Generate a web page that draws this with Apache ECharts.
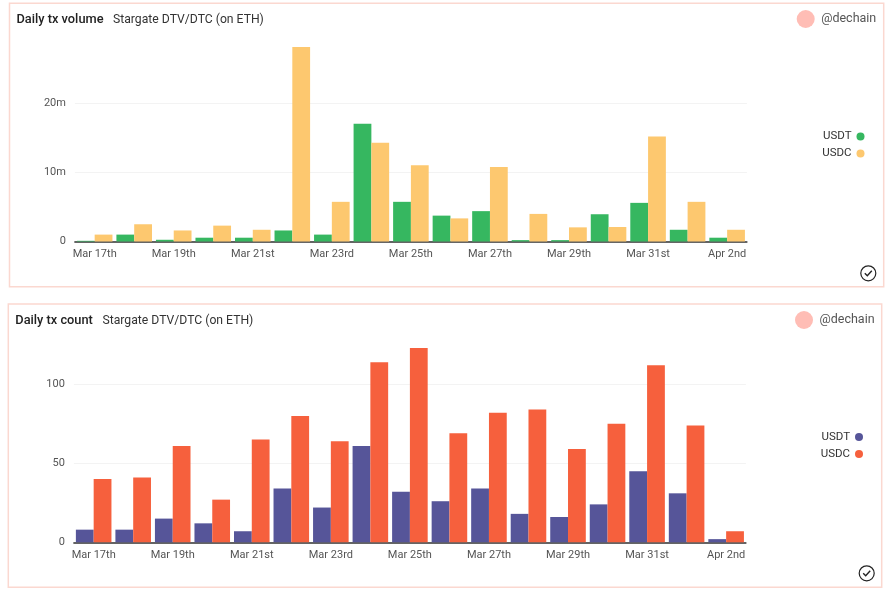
<!DOCTYPE html>
<html>
<head>
<meta charset="utf-8">
<style>
  html, body { margin: 0; padding: 0; background: #fff; }
  #top, #bottom { position: absolute; left: 0; width: 893px; height: 298px; }
  #top { top: 0; }
  #bottom { top: 298px; }
</style>
<script src="https://cdn.jsdelivr.net/npm/echarts@6/dist/echarts.min.js"></script>
</head>
<body>
<div id="top"></div>
<div id="bottom"></div>
<script>
const days = ['Mar 17th', 'Mar 18th', 'Mar 19th', 'Mar 20th', 'Mar 21st', 'Mar 22nd', 'Mar 23rd', 'Mar 24th', 'Mar 25th',
  'Mar 26th', 'Mar 27th', 'Mar 28th', 'Mar 29th', 'Mar 30th', 'Mar 31st', 'Apr 1st', 'Apr 2nd'];

// millions of dollars
const volumeUsdt = [0.1, 1.0, 0.25, 0.55, 0.55, 1.6, 1.0, 17.05, 5.75, 3.75, 4.4, 0.2, 0.2, 3.95, 5.6, 1.7, 0.55];
const volumeUsdc = [1.0, 2.5, 1.6, 2.3, 1.7, 28.2, 5.75, 14.3, 11.05, 3.35, 10.8, 4.0, 2.05, 2.1, 15.2, 5.75, 1.7];

const countUsdt = [8, 8, 15, 12, 7, 34, 22, 61, 32, 26, 34, 18, 16, 24, 45, 31, 2];
const countUsdc = [40, 41, 61, 27, 65, 80, 64, 114, 123, 69, 82, 84, 59, 75, 112, 74, 7];

const font = 'Roboto, sans-serif';

let option = params => ({
    animation: false,
    textStyle: { fontFamily: font },
    tooltip: { trigger: 'axis' },
    title: [
        {
            text: params.title,
            left: params.frame[0] + 7,
            top: params.titleY - 7,
            padding: 0,
            textStyle: { fontFamily: font, fontSize: 12.8, fontWeight: 500, color: '#222', lineHeight: 16 }
        },
        {
            text: 'Stargate DTV/DTC (on ETH)',
            left: params.subLeft,
            top: params.titleY - 7,
            padding: 0,
            textStyle: { fontFamily: font, fontSize: 12.2, fontWeight: 400, color: '#333', lineHeight: 16 }
        }
    ],
    legend: {
        orient: 'vertical',
        right: params.legendRight,
        top: params.legendTop,
        align: 'right',
        icon: 'circle',
        padding: 0,
        itemWidth: 8,
        itemHeight: 8,
        itemGap: 5,
        textStyle: { fontFamily: font, fontSize: 11.5, color: '#333' }
    },
    grid: {
        left: params.gridLeft,
        width: 672,
        top: params.gridTop,
        height: params.gridHeight
    },
    xAxis: {
        type: 'category',
        data: days,
        axisLine: { lineStyle: { color: '#333', width: 1.5 } },
        axisTick: { show: false },
        axisLabel: {
            interval: 1,
            color: '#555',
            fontSize: 11,
            margin: 7,
            hideOverlap: false
        }
    },
    yAxis: {
        type: 'value',
        min: 0,
        max: params.max,
        interval: params.interval,
        axisLine: { show: false },
        axisTick: { show: false },
        axisLabel: {
            color: '#555',
            fontSize: 11,
            margin: 9,
            showMaxLabel: false,
            formatter: params.format
        },
        splitLine: { showMaxLine: false, lineStyle: { color: '#f3f3f3', width: 1 } }
    },
    series: [
        {
            name: 'USDT',
            type: 'bar',
            data: params.usdt,
            barGap: 0,
            barCategoryGap: '10%',
            itemStyle: { color: params.colors[0] }
        },
        {
            name: 'USDC',
            type: 'bar',
            data: params.usdc,
            barGap: 0,
            barCategoryGap: '10%',
            itemStyle: { color: params.colors[1] }
        }
    ],
    graphic: [
        {
            type: 'rect',
            z: -1,
            shape: {
                x: params.frame[0],
                y: params.frame[1],
                width: params.frame[2] - params.frame[0],
                height: params.frame[3] - params.frame[1]
            },
            style: { fill: '#fff', stroke: '#fbd8d0', lineWidth: 1.5 }
        },
        {
            type: 'circle',
            shape: { cx: params.avatar[0], cy: params.avatar[1], r: 9 },
            style: { fill: '#ffbdb5' }
        },
        {
            type: 'text',
            x: params.avatar[0] + 15.5,
            y: params.avatar[1],
            style: { text: '@dechain', font: '12.5px ' + font, fill: '#555', verticalAlign: 'middle' }
        },
        {
            type: 'circle',
            shape: { cx: params.check[0], cy: params.check[1], r: 7.5 },
            style: { fill: 'none', stroke: '#222', lineWidth: 1.2 }
        },
        {
            type: 'polyline',
            x: params.check[0],
            y: params.check[1],
            shape: { points: [[-3.5, 0], [-1, 2.5], [3.5, -2.5]] },
            style: { fill: 'none', stroke: '#222', lineWidth: 1.4 }
        }
    ]
});

echarts.init(document.getElementById('top')).setOption(option({
    title: 'Daily tx volume',
    subLeft: 113,
    titleY: 19,
    frame: [9.5, 3.3, 883.7, 286.7],
    avatar: [805.7, 19],
    check: [868.3, 273.3],
    gridLeft: 74.9,
    gridTop: 34.5,
    gridHeight: 207,
    max: 30,
    interval: 10,
    format: v => (v ? v + 'm' : '0'),
    legendRight: 28.5,
    legendTop: 130.5,
    usdt: volumeUsdt,
    usdc: volumeUsdc,
    colors: ['#36b760', '#fdc86f']
}));

echarts.init(document.getElementById('bottom')).setOption(option({
    title: 'Daily tx count',
    subLeft: 102.5,
    titleY: 22,
    frame: [8.3, 6, 881.7, 289.3],
    avatar: [804, 22],
    check: [866.7, 275.3],
    gridLeft: 73.9,
    gridTop: 7.3,
    gridHeight: 237,
    max: 150,
    interval: 50,
    format: v => String(v),
    legendRight: 30,
    legendTop: 133,
    usdt: countUsdt,
    usdc: countUsdc,
    colors: ['#565599', '#f6603d']
}));
</script>
</body>
</html>
